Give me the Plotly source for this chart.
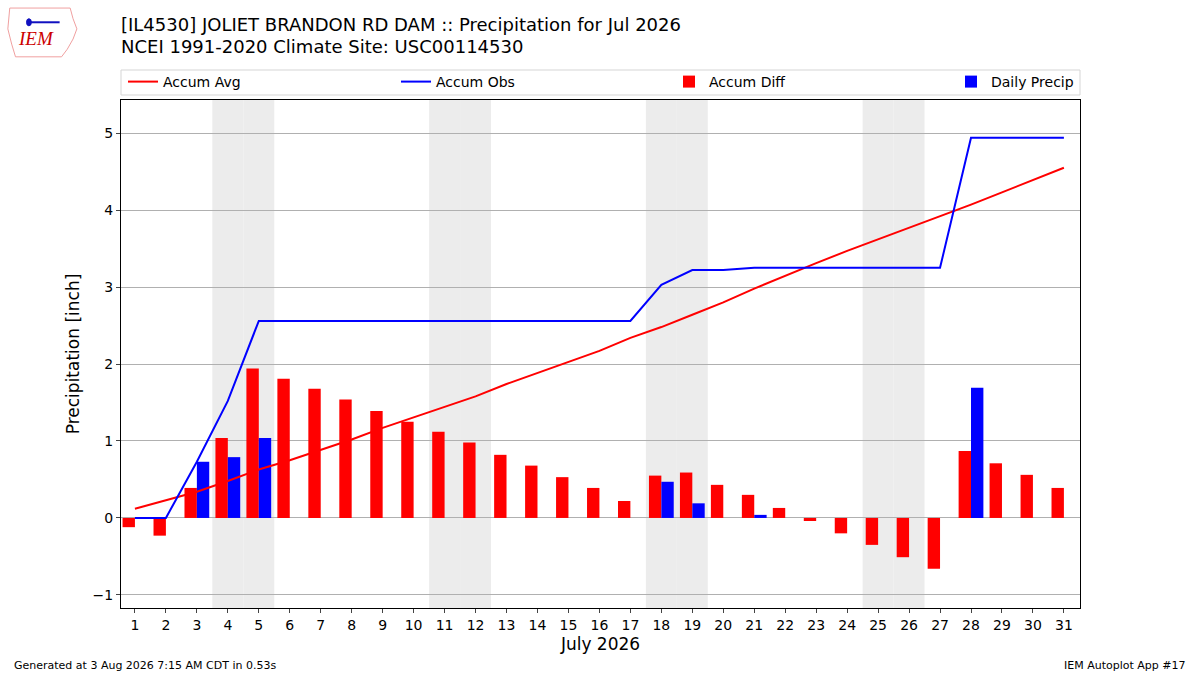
import datetime
import plotly.graph_objects as go

# July 2026 at Joliet Brandon Rd Dam (IL4530)
days = list(range(1, 32))
daily_precip = [0.00, 0.00, 0.73, 0.79, 1.04, 0.00, 0.00, 0.00, 0.00, 0.00,
                0.00, 0.00, 0.00, 0.00, 0.00, 0.00, 0.00, 0.47, 0.19, 0.00,
                0.04, 0.00, 0.00, 0.00, 0.00, 0.00, 0.00, 1.69, 0.00, 0.00,
                0.00]
accum_obs = [0.00, 0.00, 0.73, 1.52, 2.56, 2.56, 2.56, 2.56, 2.56, 2.56,
             2.56, 2.56, 2.56, 2.56, 2.56, 2.56, 2.56, 3.03, 3.22, 3.22,
             3.25, 3.25, 3.25, 3.25, 3.25, 3.25, 3.25, 4.94, 4.94, 4.94,
             4.94]
accum_avg = [0.12, 0.23, 0.34, 0.48, 0.63, 0.75, 0.88, 1.02, 1.17, 1.31,
             1.44, 1.58, 1.74, 1.88, 2.03, 2.17, 2.34, 2.48, 2.64, 2.80,
             2.98, 3.15, 3.31, 3.47, 3.62, 3.77, 3.93, 4.07, 4.23, 4.39,
             4.55]
accum_diff = [-0.12, -0.23, 0.39, 1.04, 1.94, 1.81, 1.68, 1.54, 1.39, 1.25,
              1.12, 0.98, 0.82, 0.68, 0.53, 0.39, 0.22, 0.55, 0.59, 0.43,
              0.30, 0.13, -0.04, -0.20, -0.35, -0.51, -0.66, 0.87, 0.71, 0.56,
              0.39]

title1 = "[IL4530] JOLIET BRANDON RD DAM :: Precipitation for Jul 2026"
title2 = "NCEI 1991-2020 Climate Site: USC00114530"

font = "DejaVu Sans"
# plot area in pixels: 121..1080 across, 100..608 down
pw, ph = 959, 508

fig = go.Figure()

fig.add_trace(go.Scatter(x=days, y=accum_avg, mode="lines", name="Accum Avg",
                         line=dict(color="#ff0000", width=2)))
fig.add_trace(go.Scatter(x=days, y=accum_obs, mode="lines", name="Accum Obs",
                         line=dict(color="#0000ff", width=2)))
fig.add_trace(go.Bar(x=days, y=accum_diff, name="Accum Diff",
                     marker=dict(color="#ff0000", line_width=0),
                     width=0.4, offset=-0.4))
fig.add_trace(go.Bar(x=days, y=daily_precip, name="Daily Precip",
                     marker=dict(color="#0000ff", line_width=0),
                     width=0.4, offset=0, legend="legend2"))

# shade the weekends
for d in days:
    if datetime.date(2026, 7, d).weekday() >= 5:
        fig.add_vrect(x0=d - 0.5, x1=d + 0.5, fillcolor="#ececec",
                      line_width=0, layer="below")

fig.update_layout(
    width=1200,
    height=675,
    paper_bgcolor="white",
    plot_bgcolor="white",
    barmode="overlay",
    font=dict(family=font, size=14, color="black"),
    margin=dict(l=121, r=120, t=100, b=67, autoexpand=False),
    showlegend=True,
    legend=dict(orientation="h", x=2 / pw, xanchor="left", y=1 + 18 / ph,
                yanchor="middle", entrywidth=228, borderwidth=0,
                bgcolor="rgba(0,0,0,0)", font=dict(size=14),
                traceorder="normal"),
    legend2=dict(orientation="h", x=(951 - 121) / pw, xanchor="left",
                 y=1 + 18 / ph, yanchor="middle", borderwidth=0,
                 bgcolor="rgba(0,0,0,0)", font=dict(size=14)),
)

# legend frame spanning the plot width
fig.add_shape(type="rect", xref="paper", yref="paper",
              x0=0, x1=1, y0=1 + 5 / ph, y1=1 + 30 / ph,
              line=dict(color="#d5d5d5", width=1), fillcolor="white",
              layer="below")

fig.update_xaxes(range=[0.55, 31.52], tickmode="array", tickvals=days,
                 ticks="outside", ticklen=4, showgrid=False, showline=True,
                 linecolor="black", linewidth=1.2, mirror=True, zeroline=False,
                 title=dict(text="July 2026", font=dict(size=17), standoff=6),
                 tickfont=dict(size=14))
fig.update_yaxes(range=[-1.17, 5.43], tickvals=[-1, 0, 1, 2, 3, 4, 5],
                 ticks="outside", ticklen=4, showgrid=True,
                 gridcolor="#b0b0b0", gridwidth=1, showline=True,
                 linecolor="black", linewidth=1.2, mirror=True, zeroline=False,
                 title=dict(text="Precipitation [inch]", font=dict(size=17),
                            standoff=8),
                 tickfont=dict(size=14))

# title lines
fig.add_annotation(text=title1, xref="paper", yref="paper",
                   x=-2 / pw, y=1 + 76 / ph, xanchor="left", yanchor="middle",
                   showarrow=False, font=dict(size=18))
fig.add_annotation(text=title2, xref="paper", yref="paper",
                   x=-2 / pw, y=1 + 53 / ph, xanchor="left", yanchor="middle",
                   showarrow=False, font=dict(size=18))

# footer texts
fig.add_annotation(text="Generated at 3 Aug 2026 7:15 AM CDT in 0.53s",
                   xref="paper", yref="paper", x=-109 / pw, y=-57 / ph,
                   xanchor="left", yanchor="middle", showarrow=False,
                   font=dict(size=11))
fig.add_annotation(text="IEM Autoplot App #17",
                   xref="paper", yref="paper", x=1 + 108 / pw, y=-57 / ph,
                   xanchor="right", yanchor="middle", showarrow=False,
                   font=dict(size=11))

# rough IEM logo
fig.add_shape(type="path", xref="paper", yref="paper",
              path=("M -0.116,1.181 L -0.053,1.181 L -0.050,1.160 "
                    "L -0.046,1.140 L -0.050,1.120 L -0.056,1.100 "
                    "L -0.062,1.085 L -0.110,1.085 L -0.114,1.110 "
                    "L -0.118,1.140 Z"),
              line=dict(color="#f0a0a0", width=1), fillcolor="white")
fig.add_shape(type="line", xref="paper", yref="paper",
              x0=-0.095, x1=-0.064, y0=1.153, y1=1.153,
              line=dict(color="#1010c0", width=2))
fig.add_shape(type="circle", xref="paper", yref="paper",
              x0=-0.0985, x1=-0.0935, y0=1.146, y1=1.160,
              line=dict(color="#1010c0", width=1), fillcolor="#1010c0")
fig.add_annotation(text="<i>IEM</i>", xref="paper", yref="paper",
                   x=-0.089, y=1.097, xanchor="center", yanchor="bottom",
                   showarrow=False,
                   font=dict(family="Liberation Serif", size=19,
                             color="#cc0000"))

# drop the default page margin so the figure sits at the window corner
fig.write_html("out.html", config={"displayModeBar": False},
               post_script="document.body.style.margin = '0';")
